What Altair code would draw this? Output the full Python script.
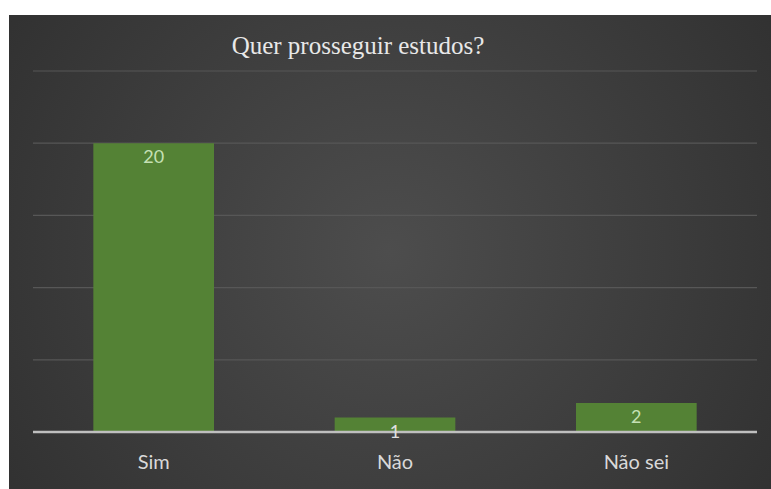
import altair as alt
import pandas as pd

# Survey answers and counts
categories = ["Sim", "Não", "Não sei"]
counts = [20, 1, 2]
grid_values = [5, 10, 15, 20, 25]
title_text = "Quer prosseguir estudos?"

# Plot-area geometry (pixels)
W, H = 724, 361
PAD = {"left": 33, "top": 71, "right": 14, "bottom": 57}

answers = pd.DataFrame({"resposta": categories, "total": counts})
grid = pd.DataFrame({"v": grid_values})
panel = pd.DataFrame({"k": [0]})

y_scale = alt.Scale(domain=[0, 25], nice=False, zero=True)
x_field = alt.X(
    "resposta:N",
    sort=categories,
    title=None,
    scale=alt.Scale(paddingInner=0.5, paddingOuter=0.25),
    axis=alt.Axis(
        domain=False,
        ticks=False,
        grid=False,
        labelAngle=0,
        labelColor="#d9d9d9",
        labelFont="Lato",
        labelFontSize=20,
        labelBaseline="alphabetic",
        labelPadding=36,
        zindex=1,
    ),
)

# Dark panel with a soft radial glow behind everything
glow = {
    "gradient": "radial",
    "x1": 0.5, "y1": 0.5, "r1": 0,
    "x2": 0.5, "y2": 0.5, "r2": 0.75,
    "stops": [
        {"offset": 0, "color": "#4d4d4d"},
        {"offset": 1, "color": "#2a2a2a"},
    ],
}
backdrop = alt.Chart(panel).mark_rect(color=glow).encode(
    x=alt.value(-24), x2=alt.value(W + 14),
    y=alt.value(-56), y2=alt.value(H + 57),
)

# Chart heading, drawn above the plot area
heading = alt.Chart(panel).mark_text(
    text=title_text,
    font="Liberation Serif",
    fontSize=25,
    color="#e8e8e8",
    align="center",
    baseline="alphabetic",
).encode(x=alt.value(W / 2 - 37), y=alt.value(-17))

gridlines = alt.Chart(grid).mark_rule(color="#575757", strokeWidth=1.2).encode(
    y=alt.Y("v:Q", scale=y_scale, axis=None)
)

bars = alt.Chart(answers).mark_bar(color="#548235").encode(
    x=x_field,
    y=alt.Y("total:Q", scale=y_scale, axis=None),
)

baseline = alt.Chart(panel).mark_rule(color="#bfbfbf", strokeWidth=2.5).encode(
    y=alt.datum(0, scale=y_scale)
)

labels = alt.Chart(answers).mark_text(
    font="Lato", fontSize=18, baseline="middle", dy=15
).encode(
    x=alt.X("resposta:N", sort=categories),
    y=alt.Y("total:Q", scale=y_scale),
    text=alt.Text("total:Q"),
    color=alt.condition("datum.total >= 2", alt.value("#c5e0b4"), alt.value("#e0e0e0")),
)

chart = (
    alt.layer(backdrop, heading, gridlines, bars, baseline, labels)
    .properties(
        width=W,
        height=H,
        padding=PAD,
        autosize=alt.AutoSizeParams(type="none"),
        background="#ffffff",
    )
    .configure_view(stroke=None)
)

chart.save("out.html", embed_options={"renderer": "svg", "actions": False})
